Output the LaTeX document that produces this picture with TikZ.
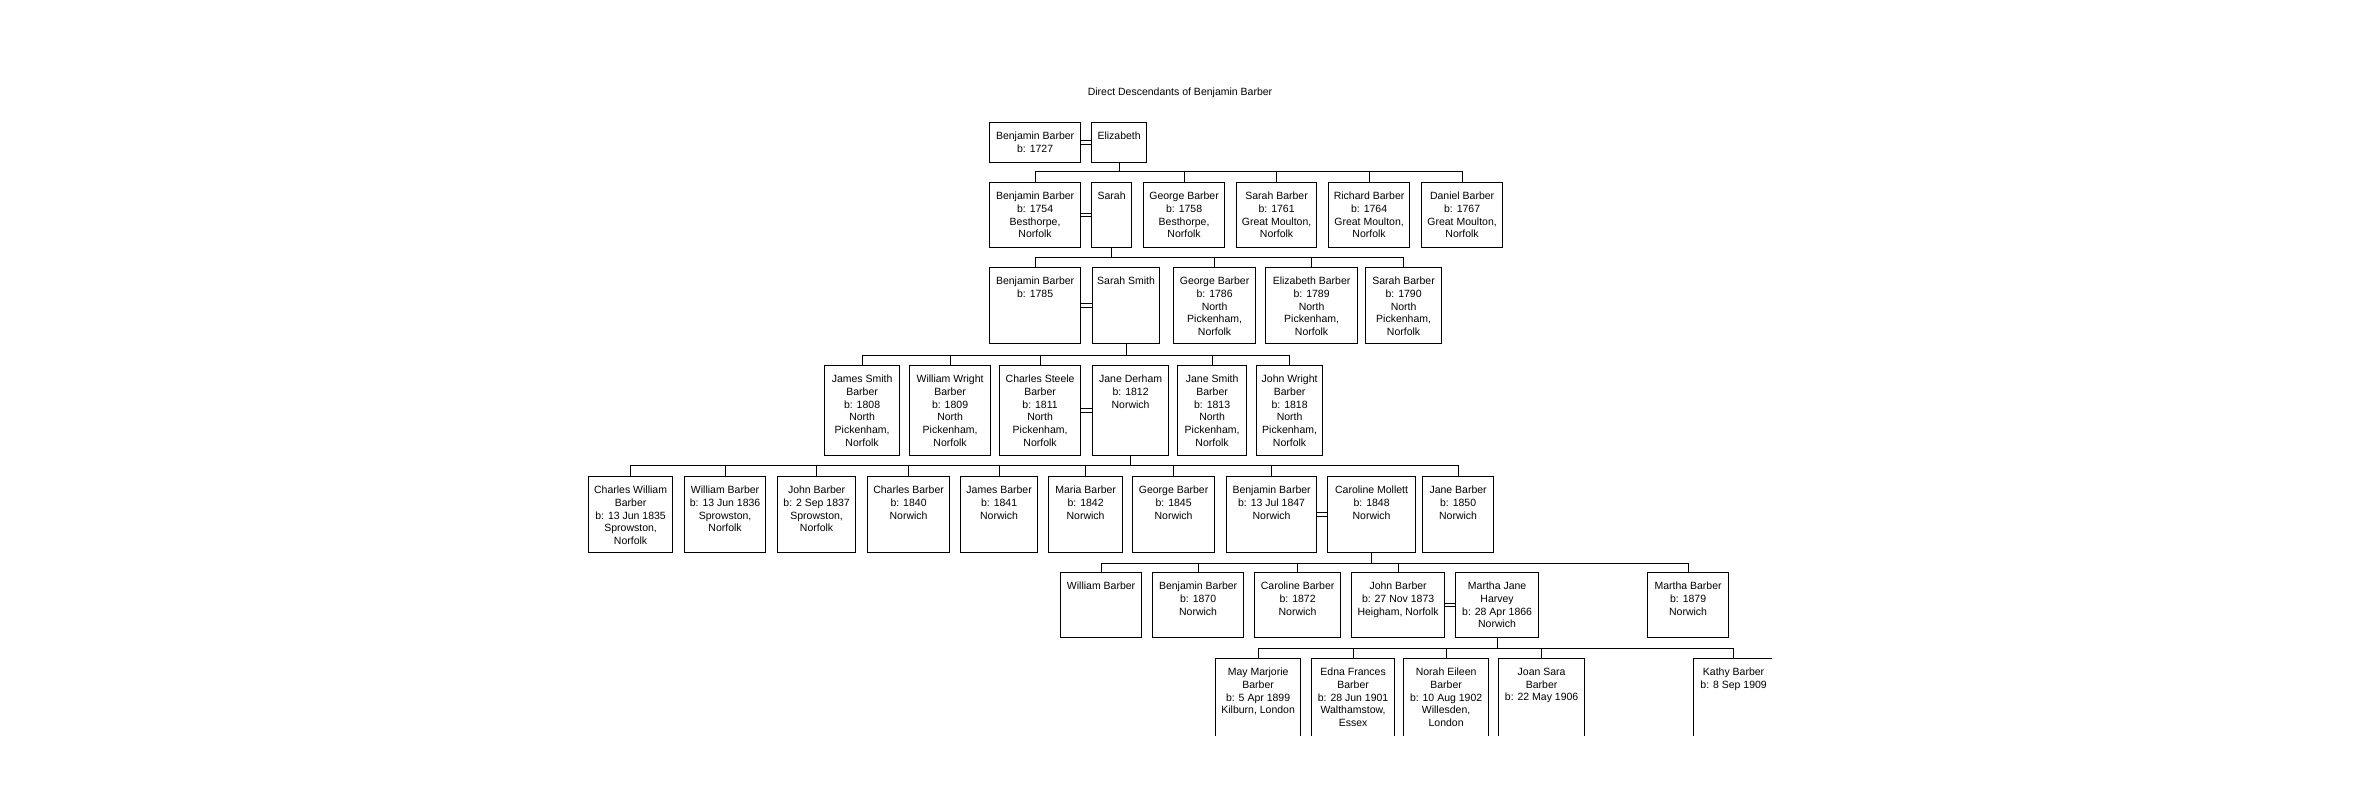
\documentclass[tikz,border=0pt]{standalone}
\usepackage{fontspec}
\setmainfont{Liberation Sans}
\usetikzlibrary{
  calc,
  positioning,
}
\tikzset{
  personbox/.style={draw, line width=1.2pt, anchor=north west, inner sep=0pt},
  persontext/.style={anchor=north, align=center, inner sep=0pt, yshift=-10pt,
    font=\fontsize{10.5}{12.7}\selectfont},
  famline/.style={line width=0.9pt},
  spouse/.style={line width=0.9pt},
}
\newcommand{\personbox}[6]{%
  \node[personbox, minimum width={#3-#2}, minimum height={#5-#4},
    label={[persontext]north:{#6}}] (#1) at (#2,#4) {};}

\begin{document}
\begin{tikzpicture}[x=1pt, y=-1pt]
      \fill[white] (0,0) rectangle (2362,787);
      \useasboundingbox (0,0) rectangle (2362,787);
      \node[font=\fontsize{10.5}{12.7}\selectfont] (title) at (1180,93)
        {Direct Descendants of Benjamin Barber};
      \begin{scope}
      \clip (0,0) rectangle (1772,735);
      \personbox{bb1727}{989}{1080}{122}{162}{Benjamin Barber\\b: 1727}
      \personbox{eliz}{1091}{1146}{122}{162}{Elizabeth}
      \personbox{bb1754}{989}{1080}{182}{247}{Benjamin Barber\\b: 1754\\Besthorpe,\\Norfolk}
      \personbox{sarah}{1091}{1131}{182}{247}{Sarah}
      \personbox{george1758}{1143}{1224}{182}{247}{George Barber\\b: 1758\\Besthorpe,\\Norfolk}
      \personbox{sarah1761}{1236}{1316}{182}{247}{Sarah Barber\\b: 1761\\Great Moulton,\\Norfolk}
      \personbox{richard1764}{1328}{1409}{182}{247}{Richard Barber\\b: 1764\\Great Moulton,\\Norfolk}
      \personbox{daniel1767}{1421}{1502}{182}{247}{Daniel Barber\\b: 1767\\Great Moulton,\\Norfolk}
      \personbox{bb1785}{989}{1080}{267}{343}{Benjamin Barber\\b: 1785}
      \personbox{sarahsmith}{1092}{1159}{267}{343}{Sarah Smith}
      \personbox{george1786}{1173}{1255}{267}{343}{George Barber\\b: 1786\\North\\Pickenham,\\Norfolk}
      \personbox{elizabeth1789}{1265}{1357}{267}{343}{Elizabeth Barber\\b: 1789\\North\\Pickenham,\\Norfolk}
      \personbox{sarah1790}{1365}{1441}{267}{343}{Sarah Barber\\b: 1790\\North\\Pickenham,\\Norfolk}
      \personbox{james1808}{824}{899}{365}{455}{James Smith\\Barber\\b: 1808\\North\\Pickenham,\\Norfolk}
      \personbox{william1809}{909}{990}{365}{455}{William Wright\\Barber\\b: 1809\\North\\Pickenham,\\Norfolk}
      \personbox{charles1811}{999}{1080}{365}{455}{Charles Steele\\Barber\\b: 1811\\North\\Pickenham,\\Norfolk}
      \personbox{janederham}{1092}{1168}{365}{455}{Jane Derham\\b: 1812\\Norwich}
      \personbox{jane1813}{1177}{1246}{365}{455}{Jane Smith\\Barber\\b: 1813\\North\\Pickenham,\\Norfolk}
      \personbox{john1818}{1256}{1322}{365}{455}{John Wright\\Barber\\b: 1818\\North\\Pickenham,\\Norfolk}
      \personbox{charles1835}{588}{672}{476}{552}{Charles William\\Barber\\b: 13 Jun 1835\\Sprowston,\\Norfolk}
      \personbox{william1836}{684}{765}{476}{552}{William Barber\\b: 13 Jun 1836\\Sprowston,\\Norfolk}
      \personbox{john1837}{777}{855}{476}{552}{John Barber\\b: 2 Sep 1837\\Sprowston,\\Norfolk}
      \personbox{charles1840}{867}{949}{476}{552}{Charles Barber\\b: 1840\\Norwich}
      \personbox{james1841}{960}{1037}{476}{552}{James Barber\\b: 1841\\Norwich}
      \personbox{maria1842}{1048}{1122}{476}{552}{Maria Barber\\b: 1842\\Norwich}
      \personbox{george1845}{1132}{1214}{476}{552}{George Barber\\b: 1845\\Norwich}
      \personbox{bb1847}{1226}{1316}{476}{552}{Benjamin Barber\\b: 13 Jul 1847\\Norwich}
      \personbox{carolinemollett}{1327}{1415}{476}{552}{Caroline Mollett\\b: 1848\\Norwich}
      \personbox{jane1850}{1422}{1493}{476}{552}{Jane Barber\\b: 1850\\Norwich}
      \personbox{william}{1060}{1141}{572}{637}{William Barber}
      \personbox{bb1870}{1152}{1243}{572}{637}{Benjamin Barber\\b: 1870\\Norwich}
      \personbox{caroline1872}{1254}{1340}{572}{637}{Caroline Barber\\b: 1872\\Norwich}
      \personbox{john1873}{1351}{1444}{572}{637}{John Barber\\b: 27 Nov 1873\\Heigham, Norfolk}
      \personbox{marthajane}{1455}{1538}{572}{637}{Martha Jane\\Harvey\\b: 28 Apr 1866\\Norwich}
      \personbox{martha1879}{1647}{1728}{572}{637}{Martha Barber\\b: 1879\\Norwich}
      \personbox{may1899}{1215}{1300}{658}{760}{May Marjorie\\Barber\\b: 5 Apr 1899\\Kilburn, London}
      \personbox{edna1901}{1311}{1394}{658}{760}{Edna Frances\\Barber\\b: 28 Jun 1901\\Walthamstow,\\Essex}
      \personbox{norah1902}{1403}{1488}{658}{760}{Norah Eileen\\Barber\\b: 10 Aug 1902\\Willesden,\\London}
      \personbox{joan1906}{1498}{1584}{658}{760}{Joan Sara\\Barber\\b: 22 May 1906}
      \personbox{kathy1909}{1693}{1773}{658}{760}{Kathy Barber\\b: 8 Sep 1909}
      \foreach \a/\b in {bb1727/eliz, bb1754/sarah, bb1785/sarahsmith,
          charles1811/janederham, bb1847/carolinemollett, john1873/marthajane} {
        \draw[spouse] ([yshift=1.8pt]\a.east) -- ([yshift=1.8pt]\b.west);
        \draw[spouse] ([yshift=-1.8pt]\a.east) -- ([yshift=-1.8pt]\b.west);
      }
      \coordinate (g2) at (0,171);
      \coordinate (g3) at (0,257);
      \coordinate (g4) at (0,355);
      \coordinate (g5) at (0,465);
      \coordinate (g6) at (0,563);
      \coordinate (g7) at (0,648);
      \draw[famline] (eliz.south) -- (eliz.south |- g2);
      \draw[famline] (bb1754.north |- g2) -- (daniel1767.north |- g2);
      \foreach \c in {bb1754, george1758, sarah1761, richard1764, daniel1767}
        \draw[famline] (\c.north) -- (\c.north |- g2);
      \draw[famline] (sarah.south) -- (sarah.south |- g3);
      \draw[famline] (bb1785.north |- g3) -- (sarah1790.north |- g3);
      \foreach \c in {bb1785, george1786, elizabeth1789, sarah1790}
        \draw[famline] (\c.north) -- (\c.north |- g3);
      \draw[famline] (sarahsmith.south) -- (sarahsmith.south |- g4);
      \draw[famline] (james1808.north |- g4) -- (john1818.north |- g4);
      \foreach \c in {james1808, william1809, charles1811, jane1813, john1818}
        \draw[famline] (\c.north) -- (\c.north |- g4);
      \draw[famline] (janederham.south) -- (janederham.south |- g5);
      \draw[famline] (charles1835.north |- g5) -- (jane1850.north |- g5);
      \foreach \c in {charles1835, william1836, john1837, charles1840, james1841,
          maria1842, george1845, bb1847, jane1850}
        \draw[famline] (\c.north) -- (\c.north |- g5);
      \draw[famline] (carolinemollett.south) -- (carolinemollett.south |- g6);
      \draw[famline] (william.north |- g6) -- (martha1879.north |- g6);
      \foreach \c in {william, bb1870, caroline1872, john1873, martha1879}
        \draw[famline] (\c.north) -- (\c.north |- g6);
      \draw[famline] (marthajane.south) -- (marthajane.south |- g7);
      \draw[famline] (may1899.north |- g7) -- (kathy1909.north |- g7);
      \foreach \c in {may1899, edna1901, norah1902, joan1906, kathy1909}
        \draw[famline] (\c.north) -- (\c.north |- g7);
      \end{scope}
    \end{tikzpicture}
\end{document}
